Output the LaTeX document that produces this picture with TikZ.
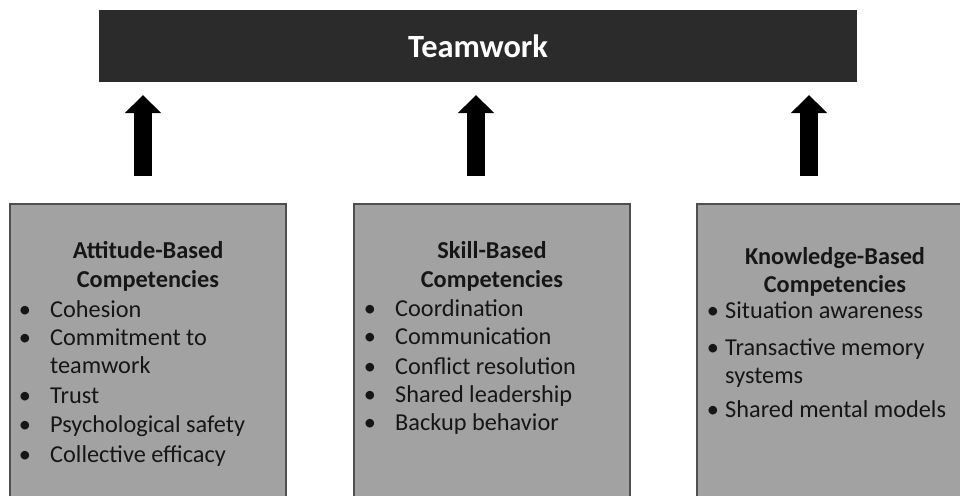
\documentclass[tikz,border=0pt]{standalone}
\usepackage{fontspec}
\setmainfont{Carlito}
\usetikzlibrary{arrows.meta}
\definecolor{bardark}{RGB}{43,43,43}
\definecolor{boxgray}{RGB}{162,162,162}
\definecolor{boxline}{RGB}{80,80,80}
\definecolor{inkdark}{RGB}{22,22,22}
\tikzset{
  panel/.style={fill=boxgray, draw=boxline, line width=1.3pt},
  bigarrow/.style={line width=18pt, draw=black, -{Triangle[width=35pt,length=18pt]}},
  ttl/.style={font=\fontsize{24.3}{29}\selectfont\bfseries, text=inkdark, align=center, inner sep=0pt, anchor=base},
  itm/.style={font=\fontsize{24.3}{29}\selectfont, text=inkdark, inner sep=0pt, anchor=base west},
  bul/.style={font=\fontsize{24.3}{29}\selectfont, text=inkdark, inner sep=0pt, anchor=base},
}
\begin{document}
\begin{tikzpicture}[x=1pt,y=-1pt]
\useasboundingbox (0,0) rectangle (960,495);
\clip (0,0) rectangle (960,495);
% top bar
\node[fill=bardark, minimum width=758pt, minimum height=72pt, inner sep=0pt,
      text=white, font=\fontsize{32.4}{36}\selectfont\bfseries] (team) at (478,46) {Teamwork};
% panels
\draw[panel] (10,204) rectangle (286,520);
\draw[panel] (354,204) rectangle (630,520);
\draw[panel] (697,204) rectangle (975,520);
% arrows
\coordinate (a1s) at (143,176); \coordinate (a1e) at (143,95);
\coordinate (a2s) at (476,176); \coordinate (a2e) at (476,95);
\coordinate (a3s) at (809,176); \coordinate (a3e) at (809,95);
\draw[bigarrow] (a1s) -- (a1e);
\draw[bigarrow] (a2s) -- (a2e);
\draw[bigarrow] (a3s) -- (a3e);
% attitude panel
\node[ttl] (t1a) at (148,258) {Attitude-Based};
\node[ttl] (t1b) at (148,287) {Competencies};
\node[bul] (b11) at (25,317) {•}; \node[itm] (i11) at (50,317) {Cohesion};
\node[bul] (b12) at (25,345) {•}; \node[itm] (i12) at (50,345) {Commitment to};
\node[itm] (i12b) at (50,373) {teamwork};
\node[bul] (b13) at (25,403) {•}; \node[itm] (i13) at (50,403) {Trust};
\node[bul] (b14) at (25,432) {•}; \node[itm] (i14) at (50,432) {Psychological safety};
\node[bul] (b15) at (25,462) {•}; \node[itm] (i15) at (50,462) {Collective efficacy};
% skill panel
\node[ttl] (t2a) at (492,258) {Skill-Based};
\node[ttl] (t2b) at (492,287) {Competencies};
\node[bul] (b21) at (370,316) {•}; \node[itm] (i21) at (395,316) {Coordination};
\node[bul] (b22) at (370,344) {•}; \node[itm] (i22) at (395,344) {Communication};
\node[bul] (b23) at (370,374) {•}; \node[itm] (i23) at (395,374) {Conflict resolution};
\node[bul] (b24) at (370,402) {•}; \node[itm] (i24) at (395,402) {Shared leadership};
\node[bul] (b25) at (370,430) {•}; \node[itm] (i25) at (395,430) {Backup behavior};
% knowledge panel
\node[ttl] (t3a) at (835,264) {Knowledge-Based};
\node[ttl] (t3b) at (835,292) {Competencies};
\node[bul] (b31) at (713,318) {•}; \node[itm] (i31) at (725,318) {Situation awareness};
\node[bul] (b32) at (713,355) {•}; \node[itm] (i32) at (725,355) {Transactive memory};
\node[itm] (i32b) at (725,383) {systems};
\node[bul] (b33) at (713,417) {•}; \node[itm] (i33) at (725,417) {Shared mental models};
\end{tikzpicture}
\end{document}
